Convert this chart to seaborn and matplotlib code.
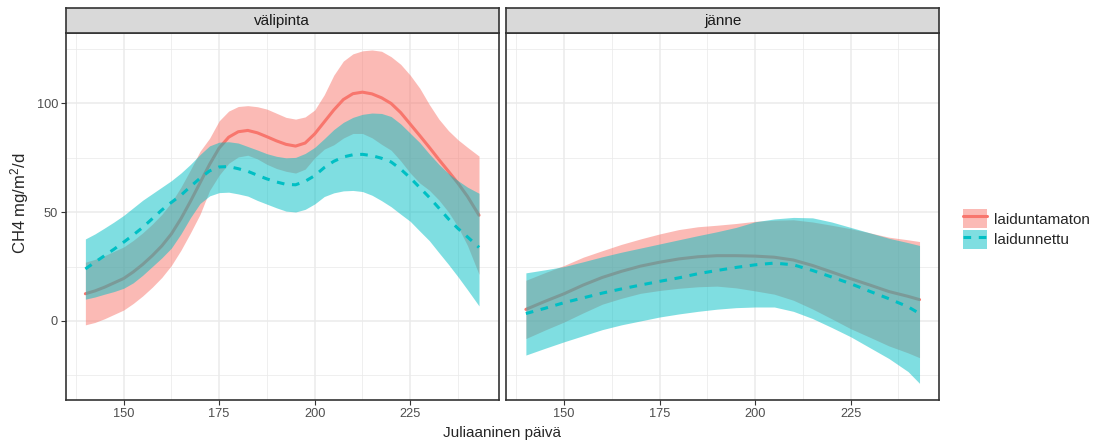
import numpy as np
import pandas as pd
import matplotlib
matplotlib.use("Agg")
import matplotlib.pyplot as plt
import seaborn as sns
from matplotlib.patches import Patch
from matplotlib.lines import Line2D
from matplotlib.legend_handler import HandlerTuple

# ---------------- data ----------------
panels = ["välipinta", "jänne"]
groups = ["laiduntamaton", "laidunnettu"]

days_vali = [140, 142.5, 145, 147.5, 150, 152.5, 155, 157.5, 160, 162.5, 165, 167.5,
             170, 172.5, 175, 177.5, 180, 182.5, 185, 187.5, 190, 192.5, 195, 197.5,
             200, 202.5, 205, 207.5, 210, 212.5, 215, 217.5, 220, 222.5, 225, 227.5,
             230, 232.5, 235, 237.5, 240, 243]

# välipinta, laiduntamaton
vali_ut_fit = [12.5, 13.8, 15.5, 17.5, 19.5, 22.5, 26.0, 30.0, 34.5, 40.0, 47.0, 55.0,
               63.5, 72.0, 79.5, 84.5, 87.0, 87.6, 86.5, 84.7, 82.8, 81.2, 80.4, 81.8,
               86.0, 91.5, 97.0, 101.8, 104.5, 105.2, 104.4, 102.6, 100.0, 95.8, 90.5, 85.2,
               79.8, 74.2, 68.8, 63.3, 57.2, 48.6]
vali_ut_hi = [27.0, 28.3, 30.0, 32.0, 34.0, 37.0, 40.5, 44.5, 49.0, 54.5, 61.5, 69.5,
              78.0, 84.0, 92.0, 96.5, 98.6, 99.0, 98.5, 97.4, 95.5, 93.6, 92.8, 93.8,
              97.0, 104.0, 113.0, 119.5, 122.8, 124.2, 124.6, 124.0, 121.5, 118.0, 113.0, 107.0,
              99.5, 92.8, 87.5, 83.3, 79.8, 75.8]
vali_ut_lo = [-1.8, -0.7, 1.0, 3.0, 5.0, 8.0, 11.5, 15.5, 20.0, 25.5, 32.5, 40.5,
              49.0, 60.0, 67.0, 72.5, 75.4, 76.2, 74.5, 72.0, 70.1, 68.8, 68.0, 69.8,
              75.0, 79.0, 81.0, 84.1, 86.2, 86.2, 84.2, 81.2, 78.5, 73.6, 68.0, 63.4,
              60.1, 55.6, 50.1, 43.3, 34.6, 21.4]
# välipinta, laidunnettu
vali_l_fit = [23.9, 27.0, 30.0, 33.0, 36.2, 39.5, 43.0, 47.0, 51.0, 54.5, 57.8, 61.8,
              65.6, 69.0, 70.8, 71.0, 70.0, 68.8, 67.0, 65.3, 63.9, 62.8, 62.6, 64.2,
              66.8, 70.5, 73.4, 75.4, 76.4, 76.6, 76.0, 74.8, 73.1, 69.8, 65.8, 61.3,
              56.8, 51.9, 46.9, 42.5, 38.6, 33.8]
vali_l_hi = [37.7, 40.0, 42.7, 45.5, 48.5, 52.0, 55.5, 58.5, 61.5, 64.5, 68.0, 72.0,
             76.5, 80.5, 82.2, 82.4, 81.8, 80.2, 78.6, 76.9, 75.7, 75.0, 75.2, 77.0,
             79.8, 83.8, 88.0, 91.3, 93.6, 95.0, 95.6, 95.4, 94.0, 90.6, 86.3, 82.0,
             76.8, 72.0, 67.8, 64.5, 61.5, 58.7]
vali_l_lo = [10.0, 11.0, 12.3, 13.5, 15.0, 17.5, 21.0, 25.0, 29.0, 33.5, 40.0, 47.5,
             54.0, 57.5, 59.0, 59.2, 58.4, 57.4, 55.4, 53.7, 52.0, 50.5, 50.1, 51.3,
             53.8, 57.2, 58.9, 59.8, 60.0, 59.5, 57.8, 55.3, 52.5, 49.1, 45.8, 41.3,
             36.9, 31.4, 26.0, 20.3, 14.3, 6.9]

days_jan = [140, 145, 150, 155, 160, 165, 170, 175, 180, 185, 190, 195,
            200, 205, 210, 215, 220, 225, 230, 235, 240, 243]
# jänne, laiduntamaton
jan_ut_fit = [5.3, 9.0, 12.5, 16.5, 20.0, 22.8, 25.2, 27.0, 28.5, 29.5, 30.0, 30.0,
              29.8, 29.3, 28.0, 25.5, 22.5, 19.4, 16.5, 13.5, 11.3, 9.8]
jan_ut_hi = [18.7, 22.2, 25.5, 29.3, 32.3, 35.2, 37.7, 40.0, 42.0, 43.3, 44.0, 44.8,
             45.8, 46.3, 46.5, 45.5, 44.0, 42.4, 40.5, 38.5, 37.3, 36.5]
jan_ut_lo = [-8.1, -4.2, -0.5, 3.7, 7.7, 10.4, 12.7, 14.0, 15.0, 15.7, 16.0, 15.2,
             13.8, 12.3, 9.5, 5.5, 1.0, -3.6, -7.5, -11.5, -14.7, -16.9]
# jänne, laidunnettu
jan_l_fit = [3.4, 5.8, 8.4, 10.6, 12.8, 14.7, 16.5, 18.2, 19.8, 21.7, 23.2, 24.6,
             25.8, 26.6, 25.8, 23.2, 20.2, 17.1, 13.6, 10.2, 6.5, 3.4]
jan_l_hi = [22.1, 23.5, 25.0, 27.2, 29.5, 31.6, 33.5, 35.4, 37.3, 39.2, 41.0, 43.0,
            45.6, 46.9, 47.6, 47.4, 45.5, 43.0, 40.5, 38.0, 36.0, 34.7]
jan_l_lo = [-15.7, -12.6, -9.6, -6.8, -4.0, -1.8, 0.0, 1.8, 3.2, 4.4, 5.4, 6.1,
            6.4, 6.4, 4.4, 1.1, -3.0, -7.3, -12.3, -17.3, -23.3, -28.7]

x_ticks = [150, 175, 200, 225]
y_ticks = [0, 50, 100]

series = {
    ("välipinta", "laiduntamaton"): (days_vali, vali_ut_fit, vali_ut_lo, vali_ut_hi),
    ("välipinta", "laidunnettu"): (days_vali, vali_l_fit, vali_l_lo, vali_l_hi),
    ("jänne", "laiduntamaton"): (days_jan, jan_ut_fit, jan_ut_lo, jan_ut_hi),
    ("jänne", "laidunnettu"): (days_jan, jan_l_fit, jan_l_lo, jan_l_hi),
}
rows = []
for (p, g), (dd, f, lo, hi) in series.items():
    for d, a, b, c in zip(dd, f, lo, hi):
        rows.append(dict(paikka=p, kasittely=g, day=d, fit=a, lo=b, hi=c))
df = pd.DataFrame(rows)

# ---------------- style ----------------
sns.set_theme(style="white")
plt.rcParams["font.family"] = ["Liberation Sans", "DejaVu Sans"]

colors = {"laiduntamaton": "#F8766D", "laidunnettu": "#00BFC4"}
styles = {"laiduntamaton": "-", "laidunnettu": (0, (2.5, 2.5))}
LW = 2.2

W, H = 1094, 443
fig = plt.figure(figsize=(W / 100, H / 100), dpi=100)

panel_top, panel_bot = 33.3, 400.0
strip_top = 8.3
lefts = [65.7, 506.2]
pw = 433.0

xmin, xmax = df["day"].min(), df["day"].max()
xpad = 0.05 * (xmax - xmin)
ymin = df["lo"].min(); ymax = df["hi"].max()
ypad = 0.05 * (ymax - ymin)

border = "#333333"
for i, p in enumerate(panels):
    ax = fig.add_axes([lefts[i] / W, 1 - panel_bot / H, pw / W, (panel_bot - panel_top) / H])
    ax.set_facecolor("white")
    ax.set_axisbelow(True)
    z = 2
    for g in groups:
        sub = df[(df.paikka == p) & (df.kasittely == g)]
        ax.fill_between(sub["day"], sub["lo"], sub["hi"], color=colors[g], alpha=0.5,
                        lw=0, zorder=z)
        sns.lineplot(data=sub, x="day", y="fit", ax=ax, color=colors[g], lw=LW,
                     linestyle=styles[g], errorbar=None, legend=False, zorder=z + 1)
        z += 2
    ax.set_xlim(xmin - xpad, xmax + xpad)
    ax.set_ylim(ymin - ypad, ymax + ypad)
    ax.set_xticks(x_ticks)
    ax.set_xticks([137.5, 162.5, 187.5, 212.5, 237.5], minor=True)
    ax.set_yticks(y_ticks)
    ax.set_yticks([-25, 25, 75, 125], minor=True)
    ax.grid(which="major", color="#EBEBEB", lw=1.1)
    ax.grid(which="minor", color="#EBEBEB", lw=0.55)
    ax.set_xlabel(""); ax.set_ylabel("")
    ax.tick_params(which="major", direction="out", length=3.5, width=0.8, color=border,
                   labelcolor="#4D4D4D", labelsize=9.2, pad=2)
    ax.tick_params(which="minor", length=0)
    ax.tick_params(axis="x", bottom=True)
    if i == 0:
        ax.tick_params(axis="y", left=True)
    else:
        ax.tick_params(axis="y", left=False, labelleft=False)
    for s in ax.spines.values():
        s.set_color(border); s.set_linewidth(1.2); s.set_visible(True)
    # strip
    sax = fig.add_axes([lefts[i] / W, 1 - panel_top / H, pw / W, (panel_top - strip_top) / H])
    sax.set_facecolor("#D9D9D9")
    sax.set_xticks([]); sax.set_yticks([])
    for s in sax.spines.values():
        s.set_color(border); s.set_linewidth(1.2)
    sax.text(0.5, 0.5, p, ha="center", va="center", fontsize=11, color="#1A1A1A",
             transform=sax.transAxes)

fig.text(502 / W, 1 - 433 / H, "Juliaaninen päivä", ha="center", va="center", fontsize=11)
fig.text(20 / W, 1 - 203 / H, r"CH4 mg/$\mathregular{m^2}$/d", ha="center", va="center",
         rotation=90, fontsize=12)

handles = []
for g in groups:
    handles.append((Patch(facecolor=colors[g], alpha=0.5, lw=0),
                    Line2D([], [], color=colors[g], lw=LW, linestyle=styles[g])))
fig.legend(handles, groups, loc="center left", bbox_to_anchor=(963 / W, 1 - 229 / H),
           frameon=False, fontsize=11, handlelength=1.55, handleheight=1.55,
           handletextpad=0.5, labelspacing=0.1, borderpad=0, borderaxespad=0,
           handler_map={tuple: HandlerTuple(ndivide=1, pad=0)})

fig.savefig("out.png", dpi=100)
